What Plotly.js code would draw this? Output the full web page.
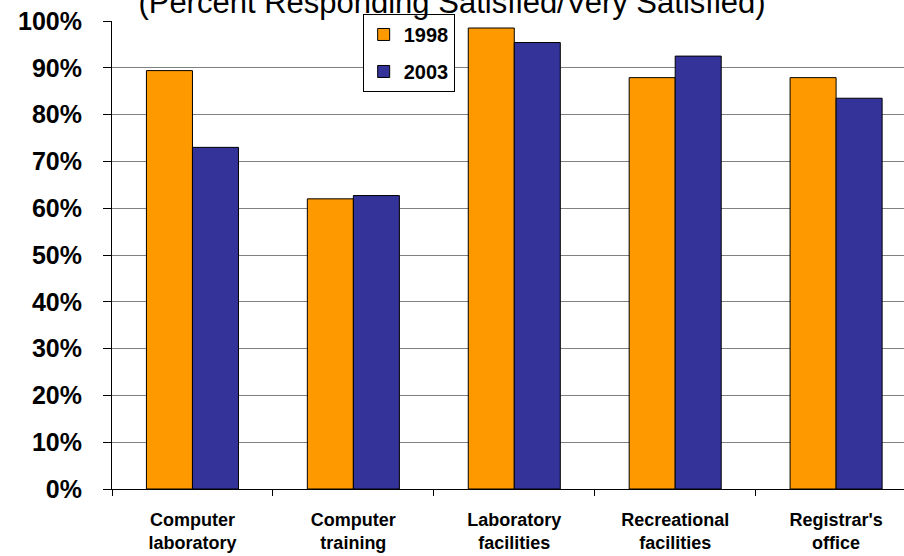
<!DOCTYPE html>
<html>
<head>
<meta charset="utf-8">
<script src="https://cdn.plot.ly/plotly-3.0.1.min.js"></script>
<style>
html,body{margin:0;padding:0;background:#fff;overflow:hidden;}
#chart{width:904px;height:556px;}
</style>
</head>
<body>
<div id="chart"></div>
<script>
const categories = ["Computer<br>laboratory", "Computer<br>training", "Laboratory<br>facilities", "Recreational<br>facilities", "Registrar's<br>office"];
const series1998 = [0.894, 0.620, 0.985, 0.879, 0.879];
const series2003 = [0.730, 0.627, 0.954, 0.925, 0.835];
const seriesNames = ["1998", "2003"];
const yTickVals = [0, 0.1, 0.2, 0.3, 0.4, 0.5, 0.6, 0.7, 0.8, 0.9, 1.0];
const yTickText = ["0%", "10%", "20%", "30%", "40%", "50%", "60%", "70%", "80%", "90%", "100%"];
const titleText = "(Percent Responding Satisfied/Very Satisfied)";

const FONT = "'Liberation Sans', Arial, Helvetica, sans-serif";

const traces = [
  {type: "bar", name: seriesNames[0], x: categories, y: series1998, legendgroup: "a",
   marker: {color: "#FF9900", line: {color: "#000000", width: 1}}},
  {type: "bar", name: seriesNames[1], x: categories, y: series2003, legendgroup: "b",
   marker: {color: "#333399", line: {color: "#000000", width: 1}}}
];

const layout = {
  width: 904, height: 556,
  margin: {l: 112, r: 0, t: 21, b: 67, pad: 0},
  paper_bgcolor: "#ffffff", plot_bgcolor: "#ffffff",
  font: {family: FONT, color: "#000000"},
  title: {text: titleText, font: {family: FONT, size: 31, color: "#000000"},
          xref: "container", yref: "container", x: 0.5, xanchor: "center", y: 0.997, yanchor: "middle"},
  barmode: "group", bargap: 0.428, bargroupgap: 0,
  showlegend: true,
  legend: {x: 0.3165, y: 1.015, xanchor: "left", yanchor: "top", xref: "paper", yref: "paper",
           bgcolor: "#ffffff", bordercolor: "#000000", borderwidth: 1,
           font: {family: FONT, size: 20, color: "#000000", weight: "bold"},
           traceorder: "grouped", tracegroupgap: 8, itemwidth: 30},
  xaxis: {type: "category", range: [-0.5, 4.422], tickson: "boundaries",
          ticks: "outside", ticklen: 6, tickcolor: "#000000", tickwidth: 1,
          showline: true, linecolor: "#000000", linewidth: 1, showgrid: false,
          tickfont: {family: FONT, size: 18, color: "#000000", weight: "bold"},
          ticklabelstandoff: 14, fixedrange: true},
  yaxis: {range: [0, 1], tickvals: yTickVals, ticktext: yTickText,
          ticks: "outside", ticklen: 8, tickcolor: "#000000", tickwidth: 1,
          showline: true, linecolor: "#000000", linewidth: 1,
          showgrid: true, gridcolor: "#808080", gridwidth: 1, zeroline: false,
          tickfont: {family: FONT, size: 25, color: "#000000", weight: "bold"},
          ticklabelstandoff: 16, fixedrange: true}
};

Plotly.newPlot("chart", traces, layout, {displayModeBar: false, staticPlot: true});
</script>
</body>
</html>
